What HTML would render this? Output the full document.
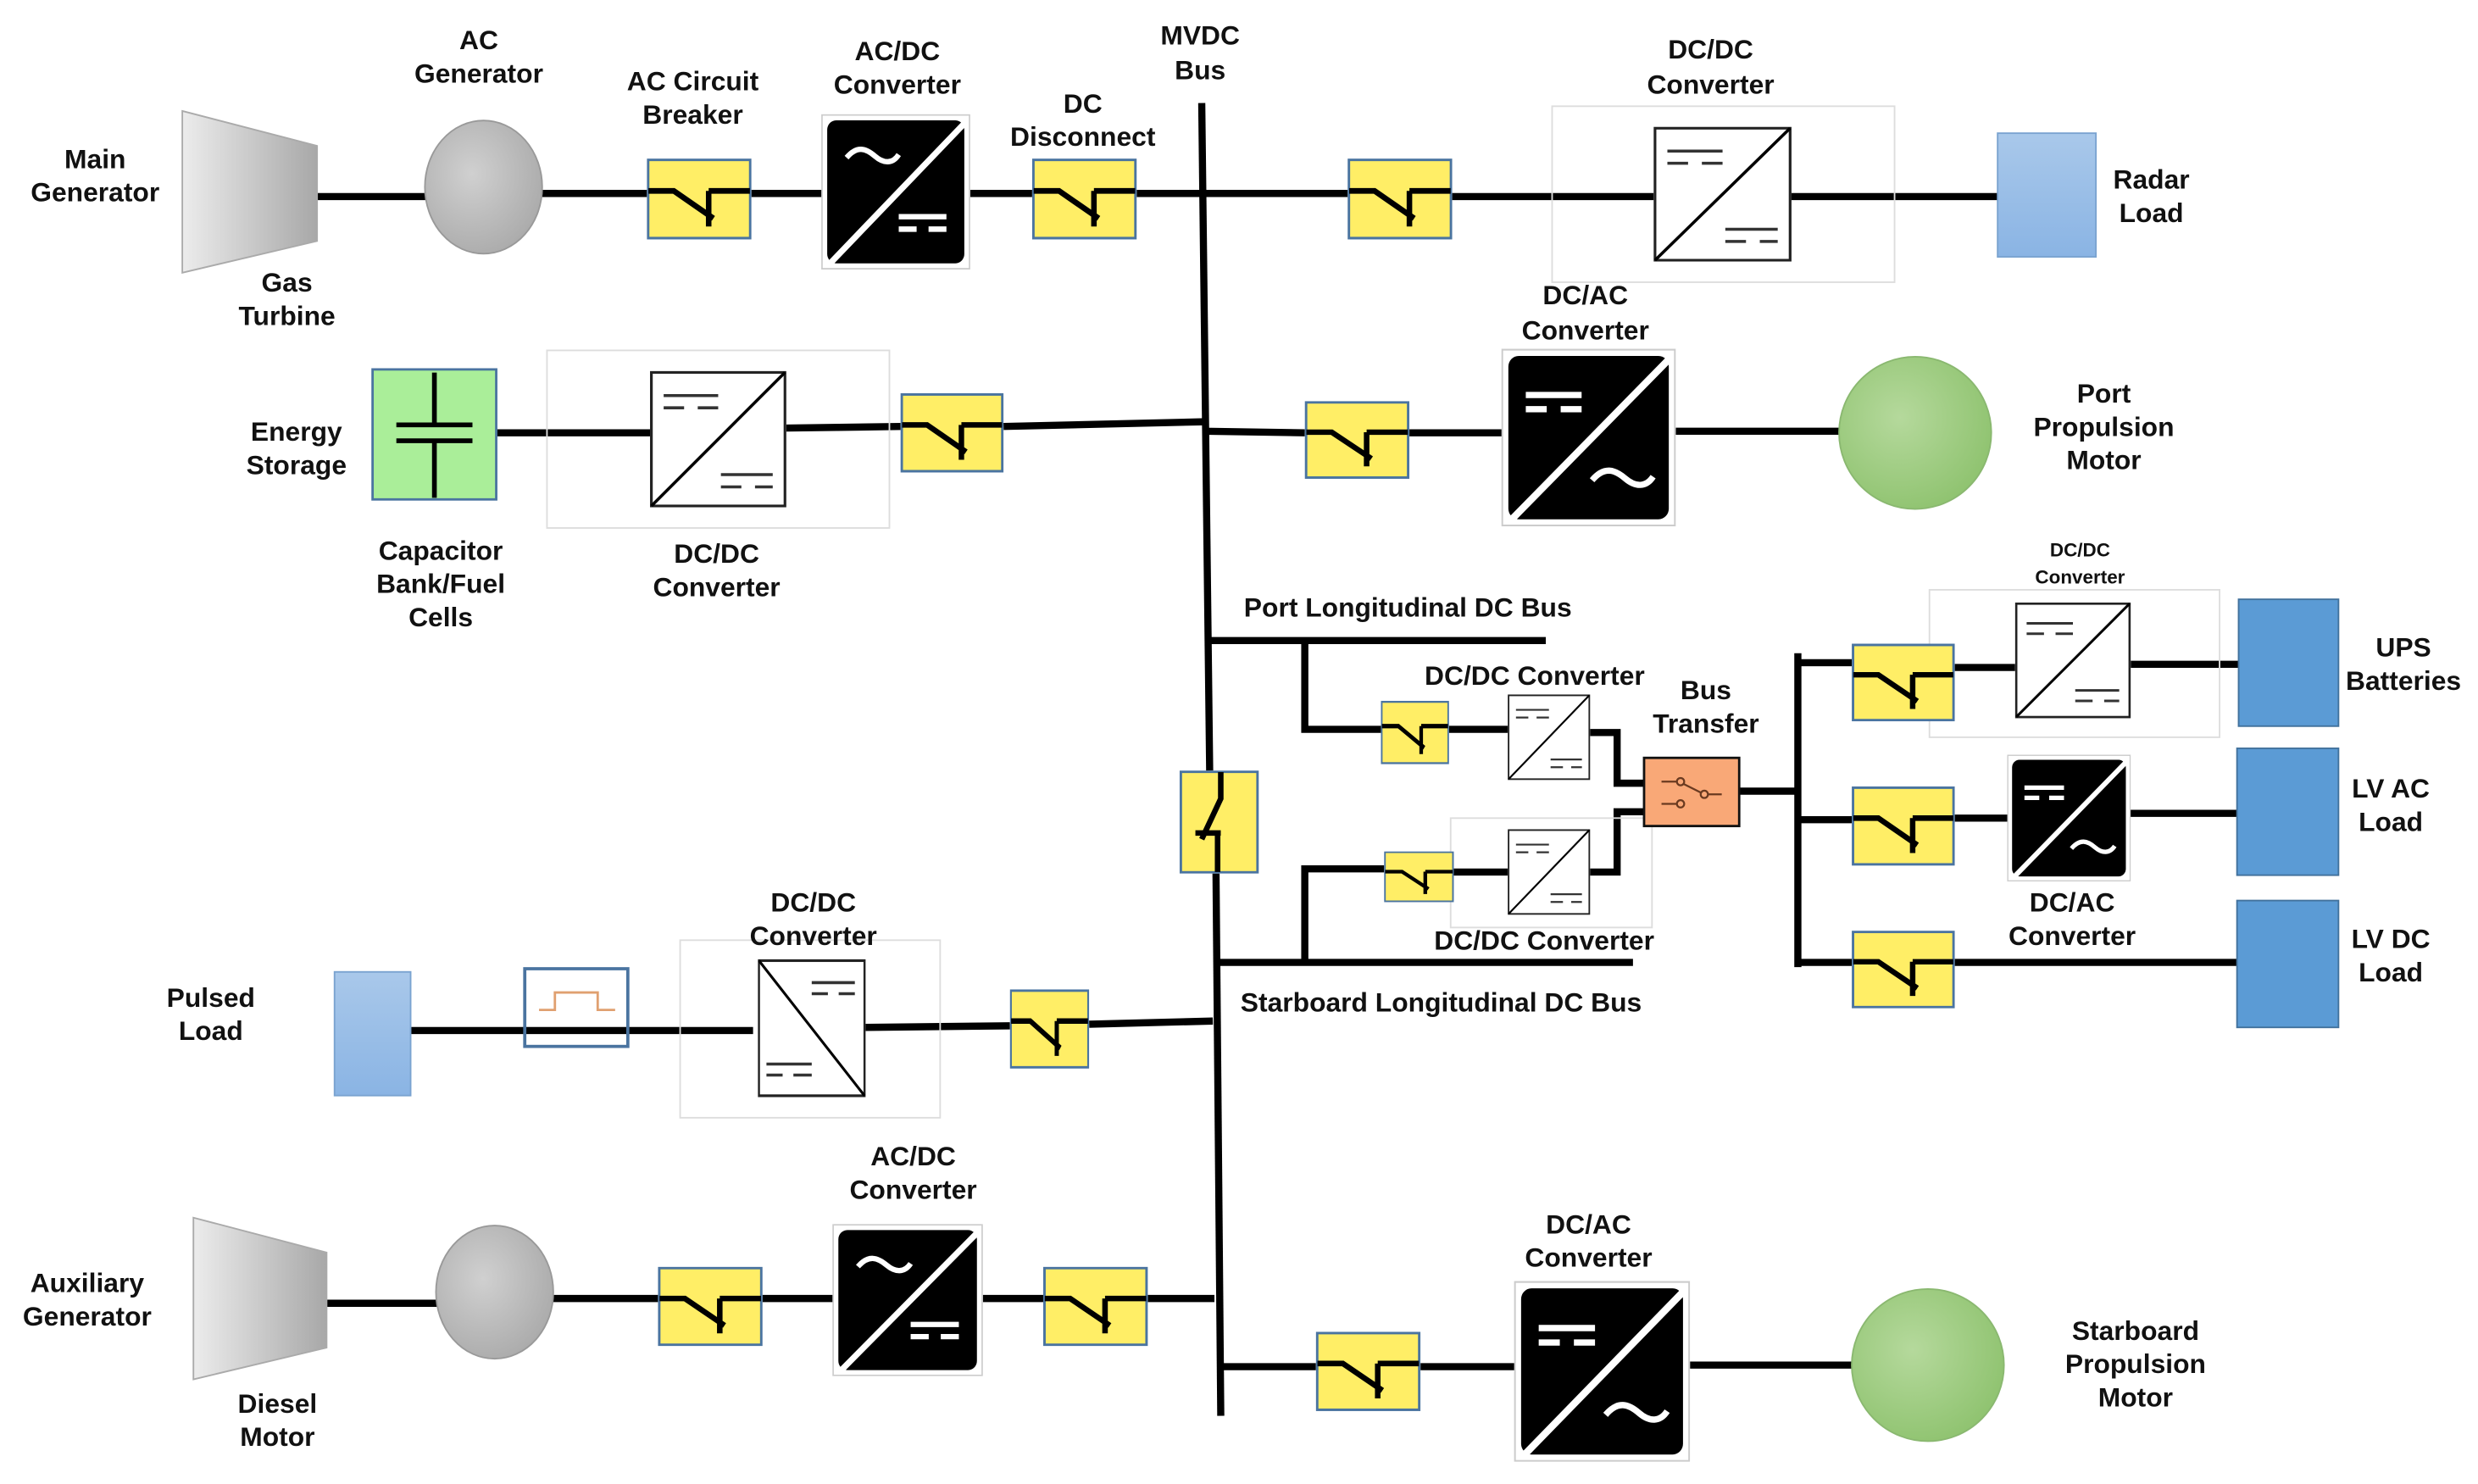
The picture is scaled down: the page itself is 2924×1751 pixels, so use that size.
<!DOCTYPE html>
<html><head><meta charset="utf-8"><style>
html,body{margin:0;padding:0;background:#fff}
svg{display:block}
text{font-family:"Liberation Sans",Arial,sans-serif;font-weight:bold;font-size:17px;fill:#111;text-anchor:middle}
</style></head><body>
<svg width="2924" height="1751" viewBox="0 0 1563 936" preserveAspectRatio="none" xmlns="http://www.w3.org/2000/svg">
<defs>
<symbol id="brk" viewBox="0 0 66 50" preserveAspectRatio="none">
<rect x="0.8" y="0.8" width="64.4" height="48.4" fill="#ffee66" stroke="#4a74a0" stroke-width="1.6"/>
<path d="M1 20 H17 L42 37 M39 20 V42 M39 20 H65" fill="none" stroke="#000" stroke-width="3.5"/>
</symbol>
<symbol id="brkv" viewBox="0 0 50 66" preserveAspectRatio="none">
<rect x="0.8" y="0.8" width="48.4" height="64.4" fill="#ffee66" stroke="#4a74a0" stroke-width="1.6"/>
<path d="M26 1 V18 L14 44 M26 40 H10 M24 40 V65" fill="none" stroke="#000" stroke-width="3.5"/>
</symbol>
<symbol id="acdc" viewBox="0 0 100 100" preserveAspectRatio="none">
<rect x="0.5" y="0.5" width="99" height="99" fill="#fff" stroke="#ccc" stroke-width="1"/>
<rect x="4" y="4" width="92" height="92" rx="6" fill="#000"/>
<path d="M6 96 L96 6" stroke="#fff" stroke-width="4"/>
<path d="M17 28 C24 20 30 22 36 27 C42 32 48 32 52 26" fill="none" stroke="#fff" stroke-width="3.5"/>
<path d="M52 66 H84 M52 74 H64 M72 74 H84" stroke="#fff" stroke-width="3.5"/>
</symbol>
<symbol id="dcac" viewBox="0 0 100 100" preserveAspectRatio="none">
<rect x="0.5" y="0.5" width="99" height="99" fill="#fff" stroke="#ccc" stroke-width="1"/>
<rect x="4" y="4" width="92" height="92" rx="6" fill="#000"/>
<path d="M6 96 L96 6" stroke="#fff" stroke-width="4"/>
<path d="M14 26 H46 M14 34 H26 M34 34 H46" stroke="#fff" stroke-width="3.5"/>
<path d="M52 74 C59 66 65 68 71 73 C77 78 83 78 87 72" fill="none" stroke="#fff" stroke-width="3.5"/>
</symbol>
<symbol id="dcdc" viewBox="0 0 100 100" preserveAspectRatio="none">
<rect x="1" y="1" width="98" height="98" fill="#fff" stroke="#222" stroke-width="2"/>
<path d="M1 99 L99 1" stroke="#000" stroke-width="2.2"/>
<path d="M10 18 H50 M10 27 H25 M35 27 H50 M52 76 H90 M52 85 H67 M77 85 H90" stroke="#333" stroke-width="2.2"/>
</symbol>
<symbol id="dcdc2" viewBox="0 0 100 100" preserveAspectRatio="none">
<rect x="1" y="1" width="98" height="98" fill="#fff" stroke="#222" stroke-width="2"/>
<path d="M1 1 L99 99" stroke="#000" stroke-width="2.2"/>
<path d="M50 17 H90 M50 25 H65 M75 25 H90 M8 76 H50 M8 84 H23 M33 84 H50" stroke="#333" stroke-width="2.2"/>
</symbol>
<linearGradient id="gt" x1="0" x2="1"><stop offset="0" stop-color="#ececec"/><stop offset="1" stop-color="#a8a8a8"/></linearGradient>
<radialGradient id="gc" cx="0.4" cy="0.4" r="0.7"><stop offset="0" stop-color="#d0d0d0"/><stop offset="1" stop-color="#a8a8a8"/></radialGradient>
<radialGradient id="grn" cx="0.4" cy="0.4" r="0.7"><stop offset="0" stop-color="#b5d99c"/><stop offset="1" stop-color="#8cc16c"/></radialGradient>
<linearGradient id="lb" x1="0" y1="0" x2="0" y2="1"><stop offset="0" stop-color="#a9c8ea"/><stop offset="1" stop-color="#8ab4e4"/></linearGradient>
</defs>

<g stroke="#000" stroke-width="4.5" fill="none">
<!-- row 1 -->
<path d="M200 124 H270"/><path d="M342 122 H408"/><path d="M474 122 H520"/><path d="M612 122 H651"/>
<path d="M717 122 H850"/><path d="M916 124 H1043"/><path d="M1130 124 H1260"/>
<!-- MVDC bus -->
<path d="M758 65 L763 486"/><path d="M767 551 L770 893"/>
<!-- row 2 -->
<path d="M313 273 H410"/><path d="M496 270 L568 269"/><path d="M633 269 L760 266"/>
<path d="M760 272 L823 273"/><path d="M889 273 H948"/><path d="M1057 272 H1160"/>
<!-- port long bus -->
<path d="M764 404 H975"/><path d="M823 404 V460 H871"/><path d="M914 460 H951"/>
<path d="M1003 462 H1020 V494 H1037"/>
<path d="M768 607 H1030"/><path d="M823 607 V548 H873"/><path d="M917 550 H951"/>
<path d="M1003 550 H1020 V512 H1037"/>
<path d="M1097 499 H1134"/><path d="M1134 412 V610"/>
<path d="M1134 418 H1168"/><path d="M1233 421 H1271"/><path d="M1344 419 H1412"/>
<path d="M1134 517 H1168"/><path d="M1233 516 H1270"/><path d="M1342 513 H1411"/>
<path d="M1134 607 H1168"/><path d="M1233 607 H1411"/>
<!-- pulsed -->
<path d="M259 650 H475"/><path d="M546 648 L637 647"/><path d="M687 646 L765 644"/>
<!-- aux -->
<path d="M206 822 H276"/><path d="M349 819 H415"/><path d="M481 819 H527"/><path d="M620 819 H658"/><path d="M724 819 H766"/>
<path d="M770 862 H830"/><path d="M896 862 H958"/><path d="M1066 861 H1168"/>
</g>

<!-- faint frames -->
<g fill="none" stroke="#ddd" stroke-width="1">
<rect x="979" y="67" width="216" height="111"/>
<rect x="345" y="221" width="216" height="112"/>
<rect x="429" y="593" width="164" height="112"/>
<rect x="915" y="516" width="127" height="69"/>
<rect x="1217" y="372" width="183" height="93"/>
</g>

<!-- generators -->
<polygon points="115,70 200,92 200,152 115,172" fill="url(#gt)" stroke="#aaa"/>
<ellipse cx="305" cy="118" rx="37" ry="42" fill="url(#gc)" stroke="#999"/>
<polygon points="122,768 206,790 206,850 122,870" fill="url(#gt)" stroke="#aaa"/>
<ellipse cx="312" cy="815" rx="37" ry="42" fill="url(#gc)" stroke="#999"/>

<!-- breakers -->
<use href="#brk" x="408" y="100" width="66" height="51"/>
<use href="#brk" x="651" y="100" width="66" height="51"/>
<use href="#brk" x="850" y="100" width="66" height="51"/>
<use href="#brk" x="568" y="248" width="65" height="50"/>
<use href="#brk" x="823" y="253" width="66" height="49"/>
<use href="#brk" x="871" y="442" width="43" height="40"/>
<use href="#brk" x="873" y="537" width="44" height="32"/>
<use href="#brk" x="1168" y="406" width="65" height="49"/>
<use href="#brk" x="1168" y="496" width="65" height="50"/>
<use href="#brk" x="1168" y="587" width="65" height="49"/>
<use href="#brk" x="637" y="624" width="50" height="50"/>
<use href="#brk" x="415" y="799" width="66" height="50"/>
<use href="#brk" x="658" y="799" width="66" height="50"/>
<use href="#brk" x="830" y="840" width="66" height="50"/>
<use href="#brkv" x="744" y="486" width="50" height="65"/>

<!-- converters -->
<use href="#acdc" x="518" y="72" width="94" height="98"/>
<use href="#acdc" x="525" y="772" width="95" height="96"/>
<use href="#dcac" x="947" y="220" width="110" height="112"/>
<use href="#dcac" x="955" y="808" width="111" height="114"/>
<use href="#dcac" x="1266" y="476" width="78" height="80"/>
<use href="#dcdc" x="1043" y="80" width="87" height="85"/>
<use href="#dcdc" x="410" y="234" width="86" height="86"/>
<use href="#dcdc" x="951" y="438" width="52" height="54"/>
<use href="#dcdc" x="951" y="523" width="52" height="54"/>
<use href="#dcdc" x="1271" y="380" width="73" height="73"/>
<use href="#dcdc2" x="478" y="605" width="68" height="87"/>

<!-- loads -->
<rect x="1260" y="84" width="62" height="78" fill="url(#lb)" stroke="#7aa3d0"/>
<rect x="211" y="613" width="48" height="78" fill="url(#lb)" stroke="#7aa3d0"/>
<rect x="1412" y="378" width="63" height="80" fill="#5b9bd5" stroke="#41719c"/>
<rect x="1411" y="472" width="64" height="80" fill="#5b9bd5" stroke="#41719c"/>
<rect x="1411" y="568" width="64" height="80" fill="#5b9bd5" stroke="#41719c"/>
<circle cx="1208" cy="273" r="48" fill="url(#grn)" stroke="#8ab870"/>
<circle cx="1216" cy="861" r="48" fill="url(#grn)" stroke="#8ab870"/>

<!-- energy storage -->
<rect x="235" y="233" width="78" height="82" fill="#aaee99" stroke="#4a74a0" stroke-width="1.5"/>
<path d="M274 235 V268 M274 278 V314 M250 268 H298 M250 278 H298" stroke="#000" stroke-width="3"/>

<!-- pulse box -->
<rect x="331" y="611" width="65" height="49" fill="none" stroke="#4a74a0" stroke-width="2"/>
<path d="M340 637 H350 V626 H377 V637 H388" fill="none" stroke="#e0a070" stroke-width="1.5"/>

<!-- bus transfer -->
<rect x="1037" y="478" width="60" height="43" fill="#f9a877" stroke="#111" stroke-width="1.5"/>
<g stroke="#6a3a20" stroke-width="1.2" fill="#f9a877">
<path d="M1048 493 H1059 L1075 501 H1086 M1048 507 H1059"/>
<circle cx="1060" cy="493" r="2.3"/><circle cx="1075" cy="501" r="2.3"/><circle cx="1060" cy="507" r="2.3"/>
</g>

<!-- labels -->
<text x="60" y="106">Main</text><text x="60" y="127">Generator</text>
<text x="181" y="184">Gas</text><text x="181" y="205">Turbine</text>
<text x="302" y="31">AC</text><text x="302" y="52">Generator</text>
<text x="437" y="57">AC Circuit</text><text x="437" y="78">Breaker</text>
<text x="566" y="38">AC/DC</text><text x="566" y="59">Converter</text>
<text x="683" y="71">DC</text><text x="683" y="92">Disconnect</text>
<text x="757" y="28">MVDC</text><text x="757" y="50">Bus</text>
<text x="1079" y="37">DC/DC</text><text x="1079" y="59">Converter</text>
<text x="1357" y="119">Radar</text><text x="1357" y="140">Load</text>
<text x="187" y="278">Energy</text><text x="187" y="299">Storage</text>
<text x="278" y="353">Capacitor</text><text x="278" y="374">Bank/Fuel</text><text x="278" y="395">Cells</text>
<text x="452" y="355">DC/DC</text><text x="452" y="376">Converter</text>
<text x="1000" y="192">DC/AC</text><text x="1000" y="214">Converter</text>
<text x="1327" y="254">Port</text><text x="1327" y="275">Propulsion</text><text x="1327" y="296">Motor</text>
<text x="888" y="389">Port Longitudinal DC Bus</text>
<text x="968" y="432">DC/DC Converter</text>
<text x="1076" y="441">Bus</text><text x="1076" y="462">Transfer</text>
<text x="974" y="599">DC/DC Converter</text>
<text x="909" y="638">Starboard Longitudinal DC Bus</text>
<text x="1312" y="351" style="font-size:12px">DC/DC</text><text x="1312" y="368" style="font-size:12px">Converter</text>
<text x="1516" y="414">UPS</text><text x="1516" y="435">Batteries</text>
<text x="1508" y="503">LV AC</text><text x="1508" y="524">Load</text>
<text x="1307" y="575">DC/AC</text><text x="1307" y="596">Converter</text>
<text x="1508" y="598">LV DC</text><text x="1508" y="619">Load</text>
<text x="133" y="635">Pulsed</text><text x="133" y="656">Load</text>
<text x="513" y="575">DC/DC</text><text x="513" y="596">Converter</text>
<text x="55" y="815">Auxiliary</text><text x="55" y="836">Generator</text>
<text x="175" y="891">Diesel</text><text x="175" y="912">Motor</text>
<text x="576" y="735">AC/DC</text><text x="576" y="756">Converter</text>
<text x="1002" y="778">DC/AC</text><text x="1002" y="799">Converter</text>
<text x="1347" y="845">Starboard</text><text x="1347" y="866">Propulsion</text><text x="1347" y="887">Motor</text>
</svg>
</body></html>
